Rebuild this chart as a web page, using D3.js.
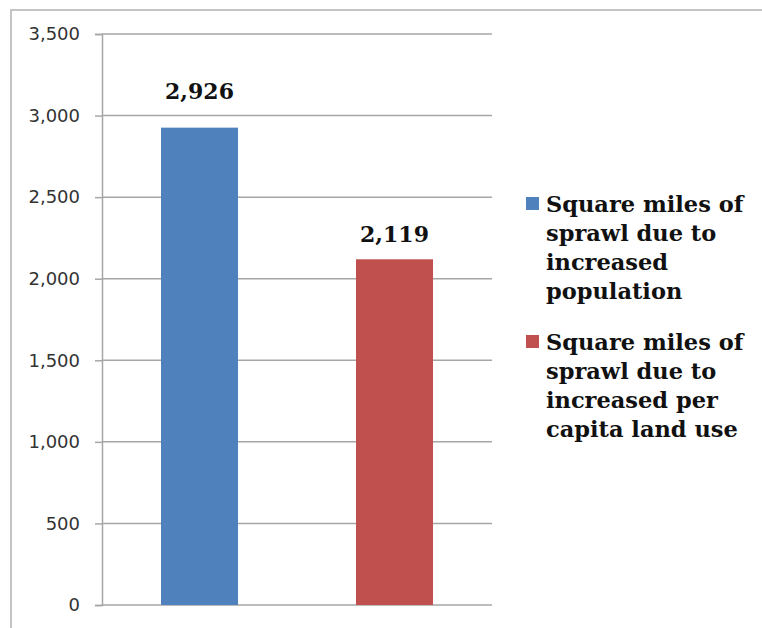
<!DOCTYPE html>
<html>
<head>
<meta charset="utf-8">
<script src="https://cdn.jsdelivr.net/npm/d3@7"></script>
<style>
  html, body { margin: 0; padding: 0; background: #fff; overflow: hidden; }
  svg { display: block; }
</style>
</head>
<body>
<div id="chart"></div>
<script>
// chart data
var categories = ["population", "per capita land use"];
var values = [2926, 2119];
var valueLabels = ["2,926", "2,119"];
var colors = ["#4F81BD", "#C0504D"];
var yTicks = [0, 500, 1000, 1500, 2000, 2500, 3000, 3500];
var legendLines = [
  ["Square miles of", "sprawl due to", "increased", "population"],
  ["Square miles of", "sprawl due to", "increased per", "capita land use"]
];

var svgWidth = 762;
var svgHeight = 628;

// plot area
var margin = { top: 34, right: 270, bottom: 23, left: 102 };
var width = svgWidth - margin.left - margin.right;
var height = svgHeight - margin.top - margin.bottom;

var svg = d3.select("#chart")
  .append("svg")
  .attr("width", svgWidth)
  .attr("height", svgHeight);

// outer chart border: only the top and left edges are in the frame
svg.append("path")
  .attr("d", `M11,${svgHeight} L11,10 L${svgWidth},10`)
  .attr("fill", "none")
  .attr("stroke", "#c4c4c4")
  .attr("stroke-width", 2);

var chartGroup = svg.append("g")
  .attr("transform", `translate(${margin.left}, ${margin.top})`);

var xScale = d3.scaleBand()
  .domain(categories)
  .range([0, width])
  .paddingInner(0.605)
  .paddingOuter(0.3025);

var yScale = d3.scaleLinear()
  .domain([0, 3500])
  .range([height, 0]);

// gridlines
chartGroup.append("g")
  .selectAll("line")
  .data(yTicks)
  .enter()
  .append("line")
  .attr("x1", 0)
  .attr("x2", width)
  .attr("y1", d => yScale(d))
  .attr("y2", d => yScale(d))
  .attr("stroke", "#a6a6a6")
  .attr("stroke-width", 1.5);

// y axis
var leftAxis = d3.axisLeft(yScale)
  .tickValues(yTicks)
  .tickSize(7)
  .tickPadding(15)
  .tickFormat(d3.format(","));

var yAxis = chartGroup.append("g").call(leftAxis);
yAxis.select(".domain").attr("stroke", "#a6a6a6").attr("stroke-width", 1.5);
yAxis.selectAll(".tick line").attr("stroke", "#a6a6a6").attr("stroke-width", 1.5);
yAxis.selectAll(".tick text")
  .attr("fill", "#333")
  .style("font-family", "'DejaVu Sans', sans-serif")
  .style("font-size", "18px");

// bars
chartGroup.selectAll(".bar")
  .data(values)
  .enter()
  .append("rect")
  .attr("class", "bar")
  .attr("x", (d, i) => xScale(categories[i]))
  .attr("y", d => yScale(d))
  .attr("width", xScale.bandwidth())
  .attr("height", d => height - yScale(d))
  .attr("fill", (d, i) => colors[i]);

// data labels (moved by hand in the original, so the gap differs per bar)
var labelGap = [29, 17];
chartGroup.selectAll(".value-label")
  .data(values)
  .enter()
  .append("text")
  .attr("class", "value-label")
  .attr("x", (d, i) => xScale(categories[i]) + xScale.bandwidth() / 2)
  .attr("y", (d, i) => yScale(d) - labelGap[i])
  .attr("text-anchor", "middle")
  .attr("fill", "#111")
  .style("font-family", "'DejaVu Serif', serif")
  .style("font-weight", "bold")
  .style("font-size", "22px")
  .text((d, i) => valueLabels[i]);

// legend
var legend = svg.append("g")
  .attr("transform", "translate(526, 212)");

var items = legend.selectAll(".legend-item")
  .data(legendLines)
  .enter()
  .append("g")
  .attr("class", "legend-item")
  .attr("transform", (d, i) => `translate(0, ${i * 138})`);

items.append("rect")
  .attr("x", 0)
  .attr("y", -15)
  .attr("width", 13)
  .attr("height", 13)
  .attr("fill", (d, i) => colors[i]);

items.append("text")
  .attr("fill", "#111")
  .style("font-family", "'DejaVu Serif', serif")
  .style("font-weight", "bold")
  .style("font-size", "22.5px")
  .selectAll("tspan")
  .data(d => d)
  .enter()
  .append("tspan")
  .attr("x", 20)
  .attr("y", (d, i) => i * 29)
  .text(d => d);
</script>
</body>
</html>
